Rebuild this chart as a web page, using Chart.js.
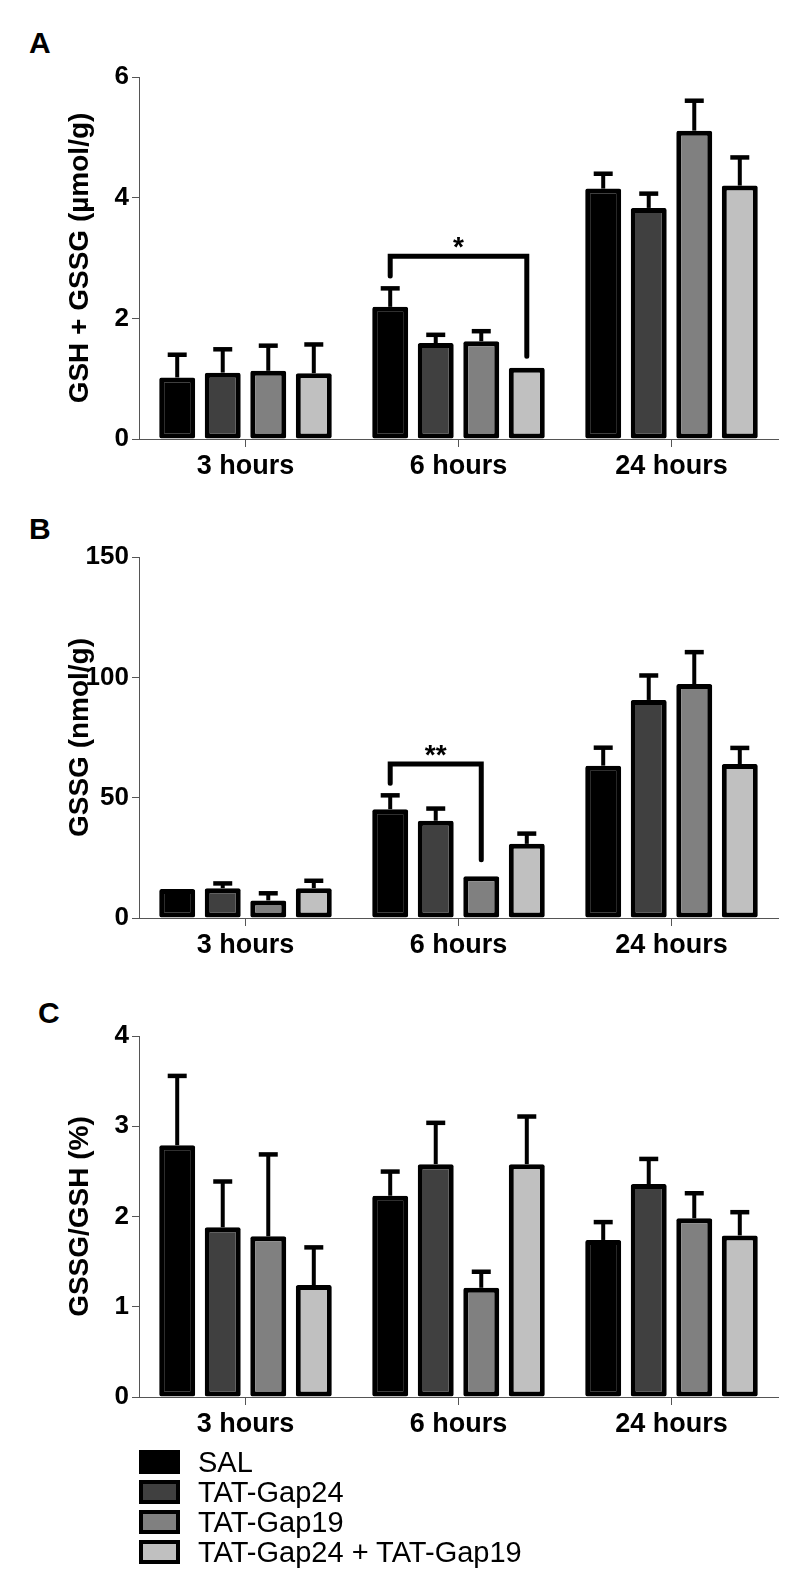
<!DOCTYPE html>
<html>
<head>
<meta charset="utf-8">
<title>GSH and GSSG levels</title>
<script src="https://cdn.jsdelivr.net/npm/chart.js@4.4.0/dist/chart.umd.min.js"></script>
<style>
body { margin: 0; background: #fff; }
#page { position: relative; width: 800px; height: 1596px; font-family: 'Liberation Sans', Arial, sans-serif; color: #000; }
.panel { position: absolute; left: 0; width: 800px; height: 500px; }
.letter { position: absolute; font-size: 30px; font-weight: bold; line-height: 30px; }
#legend { position: absolute; left: 139px; top: 1447px; }
.row { height: 30px; display: flex; align-items: center; font-size: 29px; }
.box { width: 41px; height: 24px; box-sizing: border-box; border: 4px solid #000; margin-right: 18px; }
</style>
</head>
<body>
<div id="page">
  <div class="letter" style="left:29px;top:28px">A</div>
  <div class="letter" style="left:29px;top:514px">B</div>
  <div class="letter" style="left:38px;top:998px">C</div>
  <div class="panel" style="top:0px"><canvas id="chartA" width="800" height="500"></canvas></div>
  <div class="panel" style="top:480px"><canvas id="chartB" width="800" height="500"></canvas></div>
  <div class="panel" style="top:960px"><canvas id="chartC" width="800" height="500"></canvas></div>
  <div id="legend"></div>
</div>
<script>
const hours = ['3 hours', '6 hours', '24 hours'];
const groups = ['SAL', 'TAT-Gap24', 'TAT-Gap19', 'TAT-Gap24 + TAT-Gap19'];
const fills = ['#000000', '#404040', '#808080', '#c0c0c0'];

// A - GSH + GSSG (µmol/g), one row per group, values at 3 / 6 / 24 h
const totalMean = [
    [1.02, 2.19, 4.15],
    [1.10, 1.59, 3.83],
    [1.13, 1.62, 5.11],
    [1.09, 1.18, 4.20]
];
const totalSem = [
    [0.41, 0.34, 0.28],
    [0.42, 0.17, 0.27],
    [0.45, 0.20, 0.53],
    [0.51, 0.04, 0.50]
];
const totalTicks = [0, 2, 4, 6];
const totalBracket = { cat: 1, bars: [0, 3], y: 3.03, ends: [2.70, 1.37], label: '*' };

// B - GSSG (nmol/g)
const gssgMean = [
    [12.0, 45.2, 63.3],
    [12.4, 40.4, 90.6],
    [7.3, 17.3, 97.2],
    [12.4, 30.8, 64.0]
];
const gssgSem = [
    [0.3, 6.6, 8.3],
    [2.8, 5.9, 11.0],
    [3.8, 0.7, 14.1],
    [3.9, 5.1, 7.5]
];
const gssgTicks = [0, 50, 100, 150];
const gssgBracket = { cat: 1, bars: [0, 2], y: 64.0, ends: [56.0, 24.2], label: '**' };

// C - GSSG/GSH (%)
const ratioMean = [
    [2.79, 2.23, 1.74],
    [1.88, 2.58, 2.36],
    [1.78, 1.21, 1.98],
    [1.24, 2.58, 1.79]
];
const ratioSem = [
    [0.79, 0.29, 0.22],
    [0.53, 0.48, 0.30],
    [0.93, 0.20, 0.30],
    [0.44, 0.55, 0.28]
];
const ratioTicks = [0, 1, 2, 3, 4];

const FONT = "'Liberation Sans', Arial, sans-serif";

const errorBars = {
    id: 'errorBars',
    afterDatasetsDraw(chart, args, opts) {
        const ctx = chart.ctx;
        const y = chart.scales.y;
        ctx.save();
        ctx.strokeStyle = '#000';
        ctx.fillStyle = '#000';
        chart.data.datasets.forEach((ds, i) => {
            chart.getDatasetMeta(i).data.forEach((bar, j) => {
                const top = y.getPixelForValue(ds.data[j]);
                const hi = y.getPixelForValue(ds.data[j] + ds.sem[j]) + 2;
                if (top - hi < 1) return;
                ctx.lineWidth = 4;
                ctx.beginPath();
                ctx.moveTo(bar.x, top);
                ctx.lineTo(bar.x, hi);
                ctx.stroke();
                ctx.lineWidth = 4.5;
                ctx.beginPath();
                ctx.moveTo(bar.x - 9.5, hi);
                ctx.lineTo(bar.x + 9.5, hi);
                ctx.stroke();
            });
        });

        const b = opts.bracket;
        if (b) {
            const x0 = chart.getDatasetMeta(b.bars[0]).data[b.cat].x;
            const x1 = chart.getDatasetMeta(b.bars[1]).data[b.cat].x;
            const yl = y.getPixelForValue(b.y);
            ctx.lineWidth = 5;
            ctx.lineCap = 'round';
            ctx.beginPath();
            ctx.moveTo(x0, y.getPixelForValue(b.ends[0]));
            ctx.lineTo(x0, yl);
            ctx.lineTo(x1, yl);
            ctx.lineTo(x1, y.getPixelForValue(b.ends[1]));
            ctx.stroke();
            ctx.font = 'bold 28px ' + FONT;
            ctx.textAlign = 'center';
            ctx.textBaseline = 'alphabetic';
            ctx.fillText(b.label, (x0 + x1) / 2, yl);
        }
        ctx.restore();
    }
};

function makePanel(id, title, mean, sem, ticks, area, bracket) {
    const datasets = groups.map((g, i) => ({
        label: g,
        data: mean[i],
        sem: sem[i],
        backgroundColor: fills[i],
        borderColor: '#000',
        borderWidth: 5,
        borderSkipped: false,
        borderRadius: 2,
        categoryPercentage: 0.855,
        barPercentage: 0.79
    }));

    return new Chart(document.getElementById(id), {
        type: 'bar',
        data: { labels: hours, datasets: datasets },
        plugins: [errorBars],
        options: {
            responsive: false,
            animation: false,
            layout: { padding: { top: area[0], right: 22, left: 0, bottom: 0 } },
            plugins: {
                legend: { display: false },
                tooltip: { enabled: false },
                errorBars: { bracket: bracket }
            },
            scales: {
                x: {
                    afterFit: s => { s.height = 500 - area[1]; },
                    grid: { offset: false, drawOnChartArea: false, tickLength: 8, color: '#555', lineWidth: 1 },
                    border: { display: true, color: '#555', width: 1 },
                    ticks: { color: '#000', padding: 3, font: { family: FONT, size: 27, weight: 'bold' } }
                },
                y: {
                    min: ticks[0],
                    max: ticks[ticks.length - 1],
                    afterFit: s => { s.width = 139; },
                    afterBuildTicks: s => { s.ticks = ticks.map(v => ({ value: v })); },
                    grid: { drawOnChartArea: false, tickLength: 7, color: '#555', lineWidth: 1 },
                    border: { display: true, color: '#555', width: 1 },
                    ticks: { color: '#000', padding: 3, font: { family: FONT, size: 26, weight: 'bold' } },
                    title: {
                        display: true,
                        text: title,
                        color: '#000',
                        padding: { top: 66, bottom: 0 },
                        font: { family: FONT, size: 28, weight: 'bold', lineHeight: 1 }
                    }
                }
            }
        }
    });
}

makePanel('chartA', 'GSH + GSSG (µmol/g)', totalMean, totalSem, totalTicks, [77, 439], totalBracket);
makePanel('chartB', 'GSSG (nmol/g)', gssgMean, gssgSem, gssgTicks, [77, 438], gssgBracket);
makePanel('chartC', 'GSSG/GSH (%)', ratioMean, ratioSem, ratioTicks, [76, 437], null);

// legend
const legend = document.getElementById('legend');
groups.forEach((g, i) => {
    const row = document.createElement('div');
    row.className = 'row';
    const box = document.createElement('div');
    box.className = 'box';
    box.style.background = fills[i];
    const txt = document.createElement('span');
    txt.textContent = g;
    row.appendChild(box);
    row.appendChild(txt);
    legend.appendChild(row);
});
</script>
</body>
</html>
